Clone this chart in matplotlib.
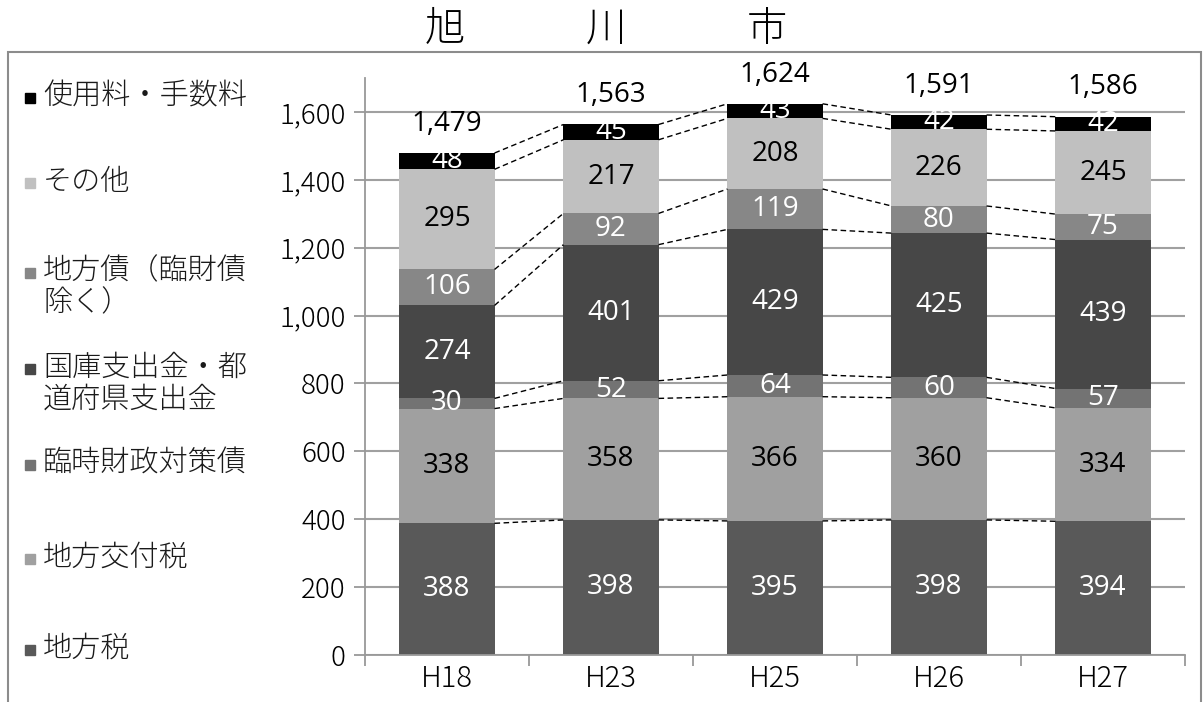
import numpy as np
import matplotlib.pyplot as plt
from matplotlib.patches import Rectangle

plt.rcParams['font.family'] = ['Noto Sans CJK JP', 'DejaVu Sans']

years = ['H18', 'H23', 'H25', 'H26', 'H27']

# bottom -> top
chihouzei = [388, 398, 395, 398, 394]      # 地方税
koufuzei = [338, 358, 366, 360, 334]       # 地方交付税
rinzai = [30, 52, 64, 60, 57]              # 臨時財政対策債
kokko = [274, 401, 429, 425, 439]          # 国庫支出金・都道府県支出金
chihousai = [106, 92, 119, 80, 75]         # 地方債（臨財債除く）
sonota = [295, 217, 208, 226, 245]         # その他
shiyouryou = [48, 45, 43, 42, 42]          # 使用料・手数料

series = [chihouzei, koufuzei, rinzai, kokko, chihousai, sonota, shiyouryou]
names = ['地方税', '地方交付税', '臨時財政対策債', '国庫支出金・都\n道府県支出金',
         '地方債（臨財債\n除く）', 'その他', '使用料・手数料']
colors = ['#595959', '#a0a0a0', '#737373', '#474747', '#878787', '#c0c0c0', '#000000']
txt_colors = ['white', 'black', 'white', 'white', 'white', 'black', 'white']

W, H = 1203, 702
fig = plt.figure(figsize=(W / 100, H / 100), dpi=100)
ax = fig.add_axes([365 / W, 1 - 655 / H, 820 / W, (655 - 78) / H])

x = np.arange(len(years))
bw = 0.58
bottom = np.zeros(len(years))
tops = []
for vals, c, tc in zip(series, colors, txt_colors):
    vals = np.array(vals)
    ax.bar(x, vals, bw, bottom=bottom, color=c, zorder=3)
    for xi, b, v in zip(x, bottom, vals):
        ax.text(xi, b + v / 2, str(v), ha='center', va='center', color=tc,
                fontsize=20, family=['Open Sans', 'DejaVu Sans'], zorder=5)
    bottom = bottom + vals
    tops.append(bottom.copy())

# series lines
for t in tops:
    for i in range(len(years) - 1):
        ax.plot([x[i] + bw / 2, x[i + 1] - bw / 2], [t[i], t[i + 1]],
                ls=(0, (4, 2.5)), color='black', lw=1, zorder=4)

for xi, tot in zip(x, bottom):
    ax.annotate(f'{int(tot):,}', (xi, tot), xytext=(0, 11), textcoords='offset points',
                ha='center', va='bottom', fontsize=20,
                family=['Open Sans', 'DejaVu Sans'], color='black')

ax.set_xlim(-0.5, len(years) - 0.5)
ax.set_ylim(0, 1700)
ax.set_yticks(np.arange(0, 1601, 200))
ax.yaxis.set_major_formatter(plt.FuncFormatter(lambda v, p: f'{int(v):,}'))
ax.set_xticks(x)
ax.set_xticklabels(years)
ax.set_xticks(np.arange(-0.5, len(years), 1), minor=True)
ax.tick_params(axis='x', which='major', length=0, labelsize=21, pad=6)
ax.tick_params(axis='x', which='minor', length=8, color='#999999', width=1.3)
ax.tick_params(axis='y', length=8, color='#999999', width=1.3, labelsize=20, pad=6)
for lab in ax.get_xticklabels() + ax.get_yticklabels():
    lab.set_fontweight('light')
ax.grid(axis='y', color='#a0a0a0', lw=1.5, zorder=0)
for s in ['top', 'right']:
    ax.spines[s].set_visible(False)
for s in ['left', 'bottom']:
    ax.spines[s].set_color('#999999')
    ax.spines[s].set_linewidth(1.3)
ax.spines['bottom'].set_zorder(6)

# title
fig.text(606 / W, 1 - 30 / H, '旭\u3000\u3000\u3000川\u3000\u3000\u3000市',
         ha='center', va='center', fontsize=29, fontweight='light')

# chart border
fig.add_artist(Rectangle((8 / W, -0.05), (1201 - 8) / W, 0.05 + 1 - 52 / H,
                         transform=fig.transFigure, fill=False,
                         edgecolor='#8c8c8c', lw=1.5))

# legend
leg_y = [648, 557, 463, 367, 271, 181, 96]
for name, c, yy in zip(names, colors, leg_y):
    fig.add_artist(Rectangle((25 / W, 1 - (yy + 7) / H), 10 / W, 10 / H,
                             transform=fig.transFigure, color=c))
    fig.text(43 / W, 1 - (yy - 15) / H, name, ha='left', va='top',
             fontsize=21, linespacing=1.05, color='#1a1a1a', fontweight='light')

fig.savefig('out.png', dpi=100)
